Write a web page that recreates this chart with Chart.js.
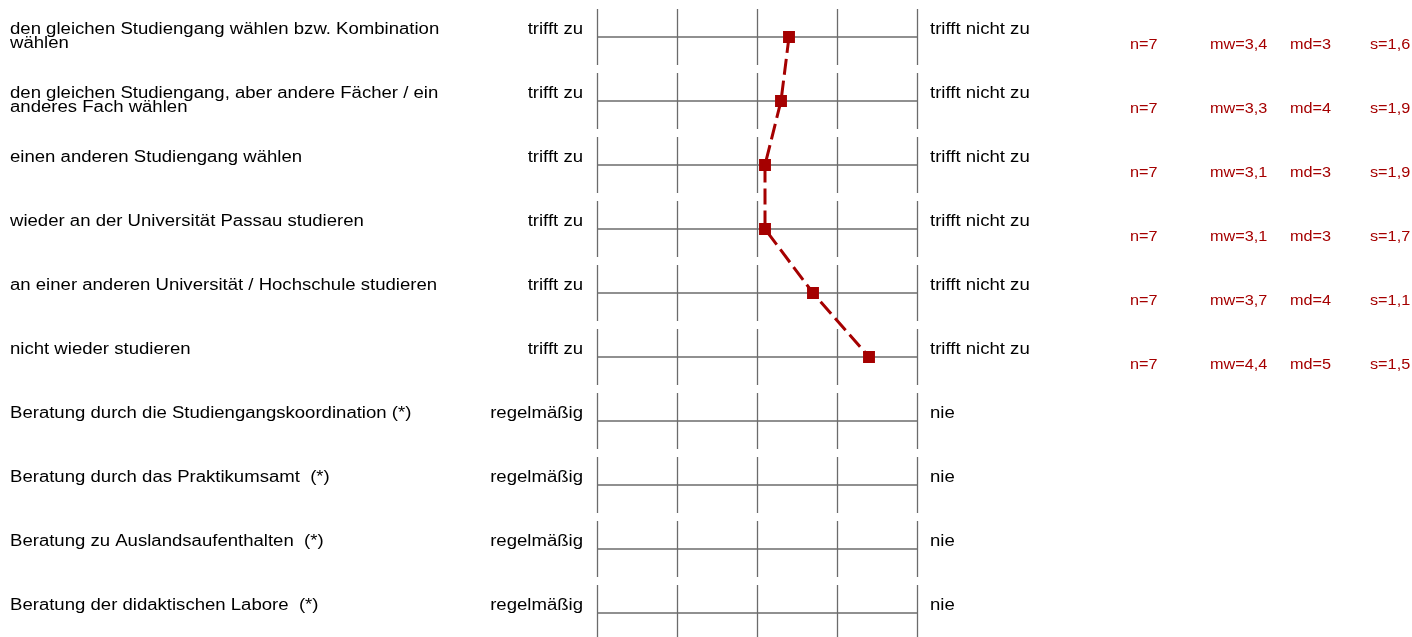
<!DOCTYPE html>
<html>
<head>
<meta charset="utf-8">
<script src="https://cdn.jsdelivr.net/npm/chart.js@4"></script>
<style>
  html, body { margin: 0; padding: 0; background: #fff; }
  #wrap { width: 1412px; height: 637px; }
</style>
</head>
<body>
<div id="wrap"><canvas id="profile" width="1412" height="637"></canvas></div>
<script>
// Items (left labels)
const items = [
    ['den gleichen Studiengang wählen bzw. Kombination', 'wählen'],
    ['den gleichen Studiengang, aber andere Fächer / ein', 'anderes Fach wählen'],
    ['einen anderen Studiengang wählen'],
    ['wieder an der Universität Passau studieren'],
    ['an einer anderen Universität / Hochschule studieren'],
    ['nicht wieder studieren'],
    ['Beratung durch die Studiengangskoordination (*)'],
    ['Beratung durch das Praktikumsamt  (*)'],
    ['Beratung zu Auslandsaufenthalten  (*)'],
    ['Beratung der didaktischen Labore  (*)']
];
const leftPoles = ['trifft zu', 'trifft zu', 'trifft zu', 'trifft zu', 'trifft zu', 'trifft zu',
    'regelmäßig', 'regelmäßig', 'regelmäßig', 'regelmäßig'];
const rightPoles = ['trifft nicht zu', 'trifft nicht zu', 'trifft nicht zu', 'trifft nicht zu', 'trifft nicht zu', 'trifft nicht zu',
    'nie', 'nie', 'nie', 'nie'];

// Stats per item
const nValues = [7, 7, 7, 7, 7, 7, null, null, null, null];
const means = [3.4, 3.3, 3.1, 3.1, 3.7, 4.4, null, null, null, null];
const medians = [3, 4, 3, 3, 4, 5, null, null, null, null];
const stdDevs = [1.6, 1.9, 1.9, 1.7, 1.1, 1.5, null, null, null, null];

// Scale ticks
const scaleTicks = [1, 2, 3, 4, 5];

const RED = '#a50000';
const GRID = '#6b6b6b';
const FONT = '"Liberation Sans", Arial, sans-serif';
const STRETCH = 1.16; // source text is a bit wide

const fmt = v => String(v).replace('.', ',');

function wideText(ctx, text, x, y, align) {
    ctx.save();
    ctx.translate(x, y);
    ctx.scale(STRETCH, 1);
    ctx.textAlign = align;
    ctx.fillText(text, 0, 0);
    ctx.restore();
}

const points = [];
means.forEach((m, i) => {
    if (m !== null) points.push({x: m, y: i});
});

// Grid + texts drawn from the scales
const profileGrid = {
    id: 'profileGrid',
    beforeDatasetsDraw(chart) {
        const {ctx, scales: {x, y}} = chart;
        ctx.save();
        ctx.strokeStyle = GRID;
        ctx.lineWidth = 1.3;
        items.forEach((it, i) => {
            const py = y.getPixelForValue(i);
            ctx.beginPath();
            ctx.moveTo(x.getPixelForValue(scaleTicks[0]), py);
            ctx.lineTo(x.getPixelForValue(scaleTicks[scaleTicks.length - 1]), py);
            ctx.stroke();
            scaleTicks.forEach(t => {
                const px = Math.round(x.getPixelForValue(t)) + 0.5;
                ctx.beginPath();
                ctx.moveTo(px, py - 28);
                ctx.lineTo(px, py + 28);
                ctx.stroke();
            });
        });
        ctx.restore();
    },
    afterDraw(chart) {
        const {ctx, scales: {x, y}} = chart;
        const xl = x.getPixelForValue(scaleTicks[0]);
        const xr = x.getPixelForValue(scaleTicks[scaleTicks.length - 1]);
        ctx.save();
        ctx.textBaseline = 'middle';
        items.forEach((lines, i) => {
            const py = y.getPixelForValue(i);
            ctx.font = '16px ' + FONT;
            ctx.fillStyle = '#000';
            lines.forEach((l, k) => wideText(ctx, l, 10, py - 7 + k * 14, 'left'));
            wideText(ctx, leftPoles[i], xl - 14, py - 7, 'right');
            wideText(ctx, rightPoles[i], xr + 13, py - 7, 'left');
            if (nValues[i] !== null) {
                ctx.fillStyle = RED;
                ctx.font = '14px ' + FONT;
                wideText(ctx, 'n=' + nValues[i], 1130, py + 8, 'left');
                wideText(ctx, 'mw=' + fmt(means[i]), 1210, py + 8, 'left');
                wideText(ctx, 'md=' + fmt(medians[i]), 1290, py + 8, 'left');
                wideText(ctx, 's=' + fmt(stdDevs[i]), 1370, py + 8, 'left');
            }
        });
        ctx.restore();
    }
};

new Chart(document.getElementById('profile'), {
    type: 'line',
    data: {
        datasets: [{
            data: points,
            borderColor: RED,
            backgroundColor: RED,
            borderWidth: 3,
            borderDash: [16, 6],
            pointStyle: 'rect',
            pointRadius: 6.3,
            pointHoverRadius: 6.3,
            tension: 0,
            clip: false
        }]
    },
    options: {
        responsive: false,
        animation: false,
        events: [],
        layout: {padding: {left: 597, right: 495, top: 37, bottom: 24}},
        plugins: {legend: {display: false}, tooltip: {enabled: false}},
        scales: {
            x: {type: 'linear', min: 1, max: 5, display: false},
            y: {type: 'linear', min: 0, max: items.length - 1, reverse: true, display: false}
        }
    },
    plugins: [profileGrid]
});
</script>
</body>
</html>
